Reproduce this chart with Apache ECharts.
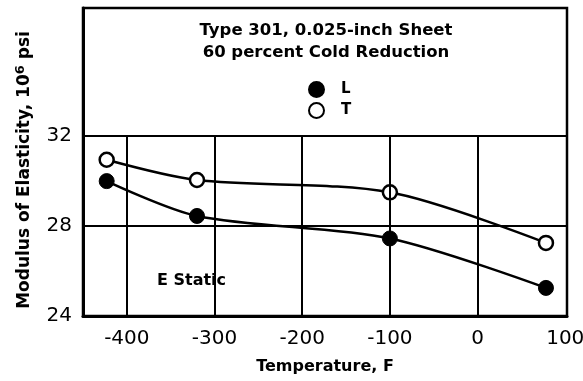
<!DOCTYPE html>
<html><head><meta charset="utf-8">
<script src="https://cdn.jsdelivr.net/npm/echarts@6/dist/echarts.min.js"></script>
<style>html,body{margin:0;padding:0;background:#fff}#c{width:583px;height:381px}</style>
</head><body><div id="c"></div>
<script>
const temps = [-423, -320, -100, 78];
const seriesL = [30.0, 28.45, 27.45, 25.25];
const seriesT = [30.95, 30.05, 29.5, 27.25];
const xTickLabels = [-400, -300, -200, -100, 0, 100];
const yTickLabels = [24, 28, 32];
const xGridLines = [-400, -300, -200, -100, 0];
const yGridLines = [28, 32];

const FONT = '"DejaVu Sans", "Liberation Sans", sans-serif';
const chart = echarts.init(document.getElementById('c'));
const gridMarks = [];
xGridLines.forEach(v => gridMarks.push([{coord: [v, 24]}, {coord: [v, 32]}]));
yGridLines.forEach(v => gridMarks.push([{coord: [-450, v]}, {coord: [102, v]}]));

chart.setOption({
  animation: false,
  backgroundColor: '#fff',
  textStyle: {fontFamily: FONT, color: '#000'},
  grid: {left: 83, right: 16, top: 8, bottom: 65, show: true, borderColor: '#000', borderWidth: 2.5,
         containLabel: false, outerBoundsMode: 'none'},
  legend: {
    orient: 'vertical', left: 303, top: 76, itemGap: 4, itemWidth: 15, itemHeight: 15,
    icon: 'circle',
    data: ['L', 'T'],
    textStyle: {fontFamily: FONT, fontWeight: 'bold', fontSize: 15, color: '#000', padding: [0, 0, 0, 12]}
  },
  title: {
    text: 'Type 301, 0.025-inch Sheet\n60 percent Cold Reduction',
    left: 321, top: 15, textAlign: 'center',
    textStyle: {fontFamily: FONT, fontWeight: 'bold', fontSize: 16.5, lineHeight: 22, color: '#000'}
  },
  graphic: [{
    type: 'text', left: 157, top: 273,
    style: {text: 'E Static', font: 'bold 16px ' + FONT, fill: '#000'}
  }],
  xAxis: {
    type: 'value', min: -450, max: 102, interval: 50,
    name: 'Temperature, F', nameLocation: 'middle', nameGap: 43,
    nameTextStyle: {fontFamily: FONT, fontWeight: 'bold', fontSize: 16, color: '#000'},
    axisLine: {show: true, onZero: false, lineStyle: {color: '#000', width: 3}},
    axisTick: {show: false},
    splitLine: {show: false},
    axisLabel: {
      fontFamily: FONT, fontSize: 20, color: '#000', margin: 13,
      showMaxLabel: true,
      formatter: v => xTickLabels.indexOf(v) >= 0 ? String(v) : ''
    }
  },
  yAxis: {
    type: 'value', min: 24, max: 37.7, interval: 4,
    name: 'Modulus of Elasticity, 10{sup|6} psi', nameLocation: 'middle', nameGap: 47, nameRotate: 90,
    nameTextStyle: {fontFamily: FONT, fontWeight: 'bold', fontSize: 17, color: '#000', padding: [0, 16, 0, 0],
      rich: {sup: {fontFamily: FONT, fontWeight: 'bold', fontSize: 13, verticalAlign: 'bottom', padding: [0, 0, 9, 0]}}},
    axisLine: {show: true, onZero: false, lineStyle: {color: '#000', width: 3}},
    axisTick: {show: false},
    splitLine: {show: false},
    axisLabel: {
      fontFamily: FONT, fontSize: 20, color: '#000', margin: 11,
      formatter: v => yTickLabels.indexOf(v) >= 0 ? String(v) : ''
    }
  },
  series: [
    {
      name: 'L', type: 'line', smooth: 0.3,
      data: temps.map((t, i) => [t, seriesL[i]]),
      symbol: 'circle', symbolSize: 15,
      lineStyle: {color: '#000', width: 2.5},
      itemStyle: {color: '#000', borderColor: '#000', borderWidth: 1},
      markLine: {
        silent: true, symbol: 'none', label: {show: false},
        lineStyle: {color: '#000', width: 2, type: 'solid'},
        data: gridMarks
      },
      z: 3
    },
    {
      name: 'T', type: 'line', smooth: 0.3,
      data: temps.map((t, i) => [t, seriesT[i]]),
      symbol: 'circle', symbolSize: 14,
      lineStyle: {color: '#000', width: 2.5},
      itemStyle: {color: '#fff', borderColor: '#000', borderWidth: 2.5},
      z: 3
    }
  ]
});
</script></body></html>
